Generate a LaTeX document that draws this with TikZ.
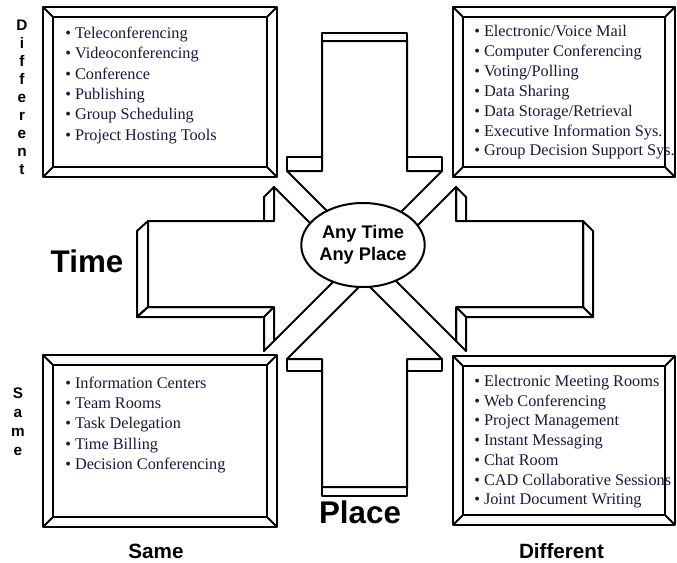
\documentclass[tikz,border=0pt]{standalone}
\usepackage{fontspec}
\setmainfont{Liberation Serif}
\setsansfont{Liberation Sans}
\usetikzlibrary{shapes.geometric}
\definecolor{listnavy}{RGB}{25,25,60}

\begin{document}
\begin{tikzpicture}[x=0.75pt,y=-0.75pt,
  solid3d/.style={draw,fill=white,line width=1.5pt,line join=round},
  item/.style={anchor=base west,inner sep=0pt,text=listnavy,font=\fontsize{12.2}{14}\selectfont},
  sideletter/.style={anchor=base,inner sep=0pt,font=\sffamily\bfseries\fontsize{11.5}{13}\selectfont},
  axis/.style={anchor=base,inner sep=0pt,font=\sffamily\bfseries\fontsize{23.5}{27}\selectfont},
  foot/.style={anchor=base,inner sep=0pt,font=\sffamily\bfseries\fontsize{15.5}{18}\selectfont}]
  \useasboundingbox (0,0) rectangle (677,562);
  % picture frames
  \foreach \xa/\ya/\xb/\yb in {43/7/277/177,453/7/675/177,43/355/277/527,453/356/675/525}{
    \draw[solid3d,line width=1.8pt] (\xa,\ya) rectangle (\xb,\yb);
    \draw[solid3d] ({\xa+10},{\ya+10}) rectangle ({\xb-10},{\yb-10});
    \draw[line width=1.5pt] (\xa,\ya) -- ++(10,10) (\xb,\ya) -- ++(-10,10)
      (\xa,\yb) -- ++(10,-10) (\xb,\yb) -- ++(-10,-10);
  }
  % top arrow
  \draw[solid3d] (322,33) rectangle (407,41);
  \draw[solid3d] (287,157) rectangle (322,171);
  \draw[solid3d] (407,157) rectangle (442,171);
  \draw[solid3d] (322,41) -- (322,171) -- (287,171) -- (364.5,248.5) -- (442,171) -- (407,171) -- (407,41) -- cycle;
  % bottom arrow
  \draw[solid3d] (322,487) rectangle (407,496);
  \draw[solid3d] (287,359) rectangle (322,371);
  \draw[solid3d] (407,359) rectangle (442,371);
  \draw[solid3d] (322,487) -- (322,359) -- (287,359) -- (364.5,281.5) -- (442,359) -- (407,359) -- (407,487) -- cycle;
  % left arrow
  \draw[solid3d] (148,221) -- (137,231) -- (137,317) -- (148,307) -- cycle;
  \draw[solid3d] (148,307) -- (137,317) -- (264,317) -- (274,307) -- cycle;
  \draw[solid3d] (274,187) -- (264,197) -- (264,221) -- (274,221) -- cycle;
  \draw[solid3d] (274,307) -- (264,317) -- (264,351) -- (274,341) -- cycle;
  \draw[solid3d] (148,221) -- (274,221) -- (274,187) -- (351,264) -- (274,341) -- (274,307) -- (148,307) -- cycle;
  % right arrow
  \draw[solid3d] (583,221) -- (593,231) -- (593,317) -- (583,307) -- cycle;
  \draw[solid3d] (583,307) -- (593,317) -- (466,317) -- (456,307) -- cycle;
  \draw[solid3d] (456,187) -- (466,197) -- (466,221) -- (456,221) -- cycle;
  \draw[solid3d] (456,307) -- (466,317) -- (466,351) -- (456,341) -- cycle;
  \draw[solid3d] (583,221) -- (456,221) -- (456,187) -- (379,264) -- (456,341) -- (456,307) -- (583,307) -- cycle;
  % centre
  \node[ellipse,draw,fill=white,line width=1.5pt,minimum width=82.5pt,minimum height=63pt,inner sep=0pt,
    align=center,font=\sffamily\bfseries\fontsize{13.7}{16.5}\selectfont] (hub) at (363,245) {Any Time\\Any Place};
  % lists
  \foreach \txt [count=\i] in {Teleconferencing,Videoconferencing,Conference,Publishing,Group Scheduling,Project Hosting Tools}
    \node[item] (dtsp\i) at (65,{38.5+20.3*(\i-1)}) {\textbullet\ \txt};
  \foreach \txt [count=\i] in {Electronic/Voice Mail,Computer Conferencing,Voting/Polling,Data Sharing,Data Storage/Retrieval,Executive Information Sys.,Group Decision Support Sys.}
    \node[item] (dtdp\i) at (474,{36.5+19.9*(\i-1)}) {\textbullet\ \txt};
  \foreach \txt [count=\i] in {Information Centers,Team Rooms,Task Delegation,Time Billing,Decision Conferencing}
    \node[item] (stsp\i) at (65,{388.5+20.2*(\i-1)}) {\textbullet\ \txt};
  \foreach \txt [count=\i] in {Electronic Meeting Rooms,Web Conferencing,Project Management,Instant Messaging,Chat Room,CAD Collaborative Sessions,Joint Document Writing}
    \node[item] (stdp\i) at (474,{386.5+19.7*(\i-1)}) {\textbullet\ \txt};
  % axis labels
  \foreach \ch [count=\i] in {D,i,f,f,e,r,e,n,t}
    \node[sideletter] (diff\i) at (22,{30+18.1*(\i-1)}) {\ch};
  \foreach \ch [count=\i] in {S,a,m,e}
    \node[sideletter] (same\i) at (18,{398+19*(\i-1)}) {\ch};
  \node[axis] (time) at (87,272) {Time};
  \node[axis] (place) at (360,523) {Place};
  \node[foot] (samefoot) at (156,558) {Same};
  \node[foot] (difffoot) at (561.5,558) {Different};
\end{tikzpicture}
\end{document}
